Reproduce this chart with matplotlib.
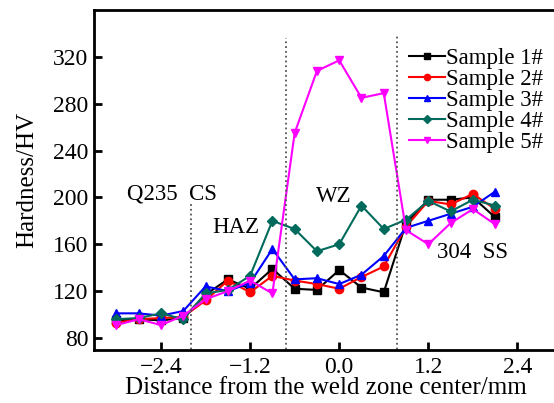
import matplotlib
matplotlib.use('Agg')
import matplotlib.pyplot as plt

plt.rcParams['font.family'] = ['Liberation Serif', 'DejaVu Serif']

# distance from weld zone center (mm)
dist = [-3.0, -2.7, -2.4, -2.1, -1.8, -1.5, -1.2, -0.9, -0.6,
        -0.3, 0.0, 0.3, 0.6, 0.9, 1.2, 1.5, 1.8, 2.1]

s1 = [95, 96, 95, 97, 117, 130, 122, 139, 122, 121, 138, 123, 119, 178, 198, 198, 200, 183]
s2 = [93, 96, 97, 98, 112, 129, 119, 133, 129, 126, 122, 132, 141, 175, 197, 194, 203, 190]
s3 = [101, 101, 99, 103, 124, 120, 127, 156, 130, 131, 126, 134, 150, 174, 180, 186, 192, 205]
s4 = [96, 97, 101, 96, 118, 121, 133, 180, 173, 154, 160, 193, 173, 181, 197, 188, 198, 193]
s5 = [91, 96, 91, 99, 113, 120, 129, 118, 255, 308, 317, 285, 289, 172, 160, 178, 190, 177]

labels = ['Sample 1#', 'Sample 2#', 'Sample 3#', 'Sample 4#', 'Sample 5#']
colors = ['black', '#ff0000', '#0000ff', '#006b5c', '#ff00ff']
markers = ['s', 'o', '^', 'D', 'v']

fig = plt.figure(figsize=(5.54, 4.03), dpi=100)
ax = fig.add_axes([0.170, 0.1315, 0.835, 0.8437])

for y, lab, c, m in zip([s1, s2, s3, s4, s5], labels, colors, markers):
    ax.plot(dist, y, color=c, marker=m, markersize=6 if m != 'D' else 5,
            linewidth=1.5, label=lab)

# zone boundaries
ax.plot([-2.0, -2.0], [62, 195], ls=':', color='#555555', lw=1.3)
ax.plot([-0.72, -0.72], [62, 336], ls=':', color='#555555', lw=1.3)
ax.plot([0.78, 0.78], [62, 338], ls=':', color='#555555', lw=1.3)

ax.text(-2.25, 203, 'Q235  CS', fontsize=16.5, ha='center', va='center')
ax.text(-0.07, 201, 'WZ', fontsize=16.5, ha='center', va='center')
ax.text(-1.39, 174, 'HAZ', fontsize=16.5, ha='center', va='center')
ax.text(1.8, 153, '304  SS', fontsize=16.5, ha='center', va='center')

ax.set_xlim(-3.3, 2.93)
ax.set_ylim(69.7, 360)
ax.set_xticks([-2.4, -1.2, 0.0, 1.2, 2.4])
ax.set_xticklabels(['\u22122.4', '\u22121.2', '0.0', '1.2', '2.4'])
ax.set_yticks([80, 120, 160, 200, 240, 280, 320])
ax.tick_params(direction='in', length=6, width=2, labelsize=17)
ax.tick_params(axis='x', pad=5)
ax.tick_params(axis='y', pad=4)
for s in ['left', 'bottom', 'top']:
    ax.spines[s].set_linewidth(2)
ax.spines['right'].set_visible(False)

ax.set_xlabel('Distance from the weld zone center/mm', fontsize=18, labelpad=-1)
ax.set_ylabel('Hardness/HV', fontsize=18, labelpad=11)

ax.legend(loc='upper right', bbox_to_anchor=(1.0, 0.93), frameon=False,
          fontsize=16.5, handlelength=1.55, handletextpad=0.05, labelspacing=0.0,
          borderaxespad=0.2, markerscale=0.75)

fig.savefig('out.png', dpi=100)
